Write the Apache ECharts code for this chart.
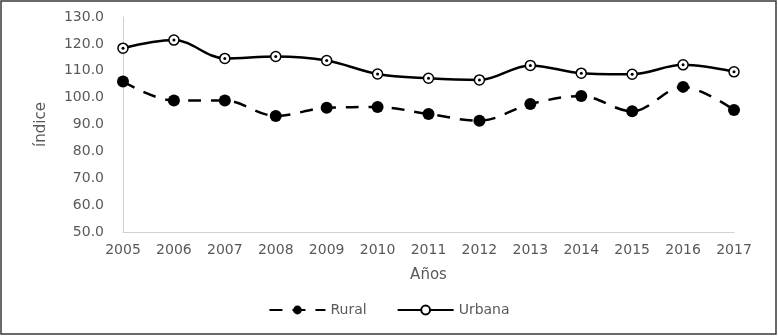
<!DOCTYPE html>
<html>
<head>
<meta charset="utf-8">
<script src="https://cdn.jsdelivr.net/npm/echarts@6/dist/echarts.min.js"></script>
<style>html,body{margin:0;padding:0;background:#fff;}#c{width:778px;height:336px;}</style>
</head>
<body>
<div id="c"></div>
<script>
const years = ['2005','2006','2007','2008','2009','2010','2011','2012','2013','2014','2015','2016','2017'];
const rural = [106.0, 98.9, 98.9, 93.2, 96.2, 96.5, 93.9, 91.4, 97.6, 100.6, 94.9, 104.0, 95.4];
const urbana = [118.4, 121.4, 114.6, 115.3, 113.8, 108.8, 107.2, 106.6, 112.0, 109.1, 108.7, 112.2, 109.6];
const yTicks = {min: 50, max: 130, interval: 10};

const font = 'DejaVu Sans';
const gray = '#595959';
const chart = echarts.init(document.getElementById('c'));
chart.setOption({
  animation: false,
  graphic: [{
    type: 'rect', shape: {x: 1, y: 1, width: 775, height: 333},
    style: {fill: 'none', stroke: '#3a3a3a', lineWidth: 1.5}, silent: true, z: -1
  }],
  grid: {left: 123, right: 44, top: 17, bottom: 104},
  legend: {
    bottom: 14, left: 'center',
    itemWidth: 56, itemHeight: 11, itemGap: 30,
    data: ['Rural', 'Urbana'],
    textStyle: {fontFamily: font, fontSize: 14, color: gray, padding: [0,0,0,0]}
  },
  xAxis: {
    type: 'category', data: years, boundaryGap: false,
    name: 'Años', nameLocation: 'middle', nameGap: 36,
    nameTextStyle: {fontFamily: font, fontSize: 15, color: gray},
    axisLine: {lineStyle: {color: '#d0d0d0', width: 1}},
    axisTick: {show: false},
    axisLabel: {fontFamily: font, fontSize: 14, color: gray, margin: 11}
  },
  yAxis: {
    type: 'value', min: yTicks.min, max: yTicks.max, interval: yTicks.interval,
    name: 'índice', nameLocation: 'middle', nameGap: 74,
    nameTextStyle: {fontFamily: font, fontSize: 15, color: gray},
    axisLine: {show: true, lineStyle: {color: '#d0d0d0', width: 1}},
    axisTick: {show: false},
    splitLine: {show: false},
    axisLabel: {fontFamily: font, fontSize: 14, color: gray, margin: 19,
      formatter: v => v.toFixed(1)}
  },
  series: [
    {
      name: 'Rural', type: 'line', data: rural, smooth: 0.35,
      symbol: 'circle', symbolSize: 12,
      lineStyle: {color: '#000', width: 2.5, type: [13, 10]},
      itemStyle: {color: '#000'}
    },
    {
      name: 'Urbana', type: 'line', data: urbana, smooth: 0.35,
      symbol: 'circle', symbolSize: 10,
      lineStyle: {color: '#000', width: 2.5},
      itemStyle: {color: '#fff', borderColor: '#000', borderWidth: 1.5}
    },
    {
      name: 'UrbanaDot', type: 'line', data: urbana, showSymbol: true,
      symbol: 'circle', symbolSize: 3, silent: true,
      lineStyle: {width: 0, opacity: 0},
      itemStyle: {color: '#000'}, z: 5
    }
  ]
});
</script>
</body>
</html>
